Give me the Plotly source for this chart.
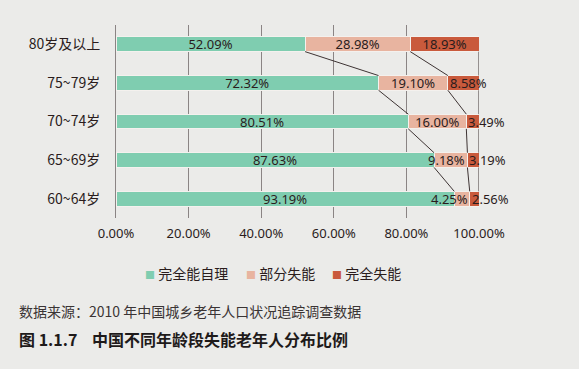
import plotly.graph_objects as go

categories = ["80岁及以上", "75~79岁", "70~74岁", "65~69岁", "60~64岁"]
series_names = ["完全能自理", "部分失能", "完全失能"]
self_care = [52.09, 72.32, 80.51, 87.63, 93.19]
partial = [28.98, 19.10, 16.00, 9.18, 4.25]
full = [18.93, 8.58, 3.49, 3.19, 2.56]
x_ticks = [0, 20, 40, 60, 80, 100]
x_tick_labels = ["0.00%", "20.00%", "40.00%", "60.00%", "80.00%", "100.00%"]

colors = ["#7fcdb0", "#e8b4a0", "#c95a3c"]
BG = "#ebebe9"
TXT = "#2a1c1c"
BAR_W = 0.38
SMALL = 10  # segments narrower than this get their label pushed to the side
CJK = "Noto Sans CJK SC, Noto Sans, sans-serif"
NUM = "Noto Sans, Noto Sans CJK SC, sans-serif"

PL, PT, PW, PH = 116, 25, 363, 193  # plot area in pixels


def px(xp):
    return (xp - PL) / PW


def py(yp):
    return 1 - (yp - PT) / PH


cum1 = self_care
cum2 = [a + b for a, b in zip(self_care, partial)]
cum3 = [a + b + c for a, b, c in zip(self_care, partial, full)]

fig = go.Figure()
for k, (name, vals, col) in enumerate(zip(series_names, [self_care, partial, full], colors)):
    texts = [f"{v:.2f}%" if (k == 0 or v >= SMALL) else "" for v in vals]
    fig.add_trace(go.Bar(
        y=categories, x=vals, name=name, orientation="h",
        marker=dict(color=col, line=dict(color="#f4f1ee", width=1)),
        width=BAR_W, text=texts,
        textposition="inside", insidetextanchor="middle",
        textangle=0, constraintext="none", cliponaxis=False,
        textfont=dict(family=NUM, size=13, color=TXT),
        showlegend=False,
    ))

annotations = []
# labels of narrow segments, placed beside the boundary between them
for i, cat in enumerate(categories):
    if partial[i] < SMALL:
        annotations.append(dict(x=cum2[i], y=cat, xref="x", yref="y", text=f"{partial[i]:.2f}%",
                                xanchor="right", yanchor="middle", showarrow=False,
                                font=dict(family=NUM, size=13, color=TXT)))
    if full[i] < SMALL:
        annotations.append(dict(x=cum2[i], y=cat, xref="x", yref="y", text=f"{full[i]:.2f}%",
                                xanchor="left", yanchor="middle", showarrow=False,
                                font=dict(family=NUM, size=13, color=TXT)))

# series lines connecting segment boundaries between adjacent bars
shapes = []
for cum in (cum1, cum2, cum3):
    for i in range(len(categories) - 1):
        shapes.append(dict(
            type="line", xref="x", yref="y",
            x0=cum[i], y0=i + BAR_W / 2,
            x1=cum[i + 1], y1=i + 1 - BAR_W / 2,
            line=dict(color="#3e3434", width=1), layer="above",
        ))

# legend drawn as text items
legend_x = [143, 244, 330]
for name, col, lx in zip(series_names, colors, legend_x):
    annotations.append(dict(
        text=f"<span style='color:{col};font-size:10px'>■</span> {name}",
        xref="paper", yref="paper", x=px(lx), y=py(273),
        xanchor="left", yanchor="middle", showarrow=False,
        font=dict(family=CJK, size=14, color=TXT)))

annotations += [
    dict(text="数据来源：2010 年中国城乡老年人口状况追踪调查数据",
         xref="paper", yref="paper", x=px(17), y=py(311),
         xanchor="left", yanchor="middle", showarrow=False,
         font=dict(family=CJK, size=14, color="#3a3434")),
    dict(text="<b>图 1.1.7    中国不同年龄段失能老年人分布比例</b>",
         xref="paper", yref="paper", x=px(17), y=py(339),
         xanchor="left", yanchor="middle", showarrow=False,
         font=dict(family=CJK, size=16, color="#1e1a1a")),
]

fig.update_layout(
    width=579, height=369,
    paper_bgcolor=BG, plot_bgcolor=BG,
    margin=dict(l=PL, r=579 - PL - PW, t=PT, b=369 - PT - PH),
    barmode="stack", shapes=shapes, annotations=annotations,
    showlegend=False,
    xaxis=dict(range=[0, 100], tickvals=x_ticks, ticktext=x_tick_labels,
               showgrid=True, gridcolor="#8a8484", gridwidth=1,
               zeroline=False, showline=False, ticks="",
               tickfont=dict(family=NUM, size=13, color=TXT), ticklabelstandoff=6),
    yaxis=dict(autorange="reversed", showgrid=False, zeroline=False,
               showline=True, linecolor="#8a8484", linewidth=1, ticks="",
               tickfont=dict(family=CJK, size=14, color=TXT), ticklabelstandoff=12),
)

fig.write_html("out.html", config={"displayModeBar": False},
               post_script="document.body.style.margin='0';document.body.style.background='%s';" % BG)
